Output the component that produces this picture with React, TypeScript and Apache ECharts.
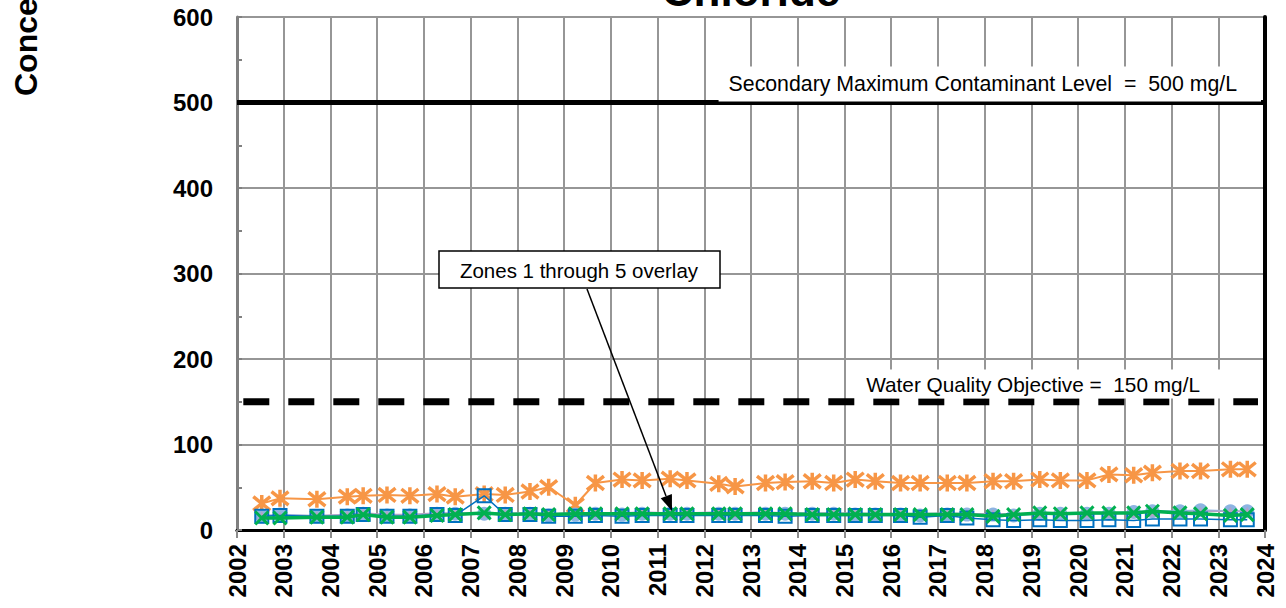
import React, { useEffect, useRef } from "react";
import * as echarts from "echarts";

// Sampling dates (decimal years)
const sampleDates = [
  2002.53, 2002.92, 2003.71, 2004.36, 2004.7, 2005.21, 2005.7, 2006.28, 2006.67, 2007.29,
  2007.74, 2008.27, 2008.67, 2009.24, 2009.67, 2010.24, 2010.67, 2011.27, 2011.63, 2012.31,
  2012.66, 2013.31, 2013.73, 2014.31, 2014.77, 2015.23, 2015.66, 2016.2, 2016.62, 2017.2,
  2017.62, 2018.18, 2018.62, 2019.18, 2019.62, 2020.19, 2020.66, 2021.19, 2021.59, 2022.18,
  2022.62, 2023.26, 2023.62,
];

// Chloride (mg/L) per well / zone
const orangeWell = [
  31, 37, 36, 39, 40, 41, 40, 42, 39, 42, 41, 45, 50, 29, 55, 59, 58, 60, 58, 54, 51, 55, 56, 57,
  55, 59, 57, 55, 55, 55, 55, 57, 57, 59, 58, 58, 65, 64, 67, 69, 69, 71, 71,
];
const zoneBlue = [
  16, 17, 16, 16, 18, 16, 16, 18, 17, 40, 18, 18, 16, 16, 17, 16, 17, 17, 17, 17, 17, 17, 16, 17,
  17, 17, 17, 17, 15, 17, 14, 12, 11, 12, 11, 11, 12, 11, 13, 13, 13, 12, 12,
];
const zoneGreen = [
  14, 14, 15, 15, 18, 15, 15, 17, 18, 20, 18, 19, 18, 19, 19, 19, 19, 19, 19, 19, 19, 19, 19, 18,
  18, 18, 18, 18, 18, 18, 18, 16, 18, 20, 19, 20, 20, 20, 22, 20, 19, 17, 18,
];
const zoneLightBlue = [
  16, 18, 16, 17, 19, 17, 17, 19, 19, 19, 19, 19, 17, 18, 19, 18, 19, 19, 19, 19, 19, 19, 19, 19,
  19, 18, 18, 18, 17, 18, 18, 18, 17, 19, 19, 19, 19, 21, 22, 22, 23, 22, 22,
];
const zonePurple = [
  17, 17, 17, 18, 20, 18, 18, 20, 20, 20, 20, 20, 19, 20, 20, 20, 21, 20, 20, 21, 20, 21, 20, 20,
  20, 20, 19, 19, 19, 20, 19, 19, 19, 20, 20, 20, 20, 20, 21, 21, 22, 22, 22,
];

const xMin = 2002;
const xMax = 2024;
const yMin = 0;
const yMax = 600;
const yStep = 100;

const smclValue = 500;
const smclSpan = [2002, 2024];
const wqoValue = 150;
const wqoSpan = [2002.135, 2023.85];

const titleText = "Chloride";
const yAxisName = "Concentration (mg/L)";
const smclLabel = "Secondary Maximum Contaminant Level  =  500 mg/L";
const wqoLabel = "Water Quality Objective =  150 mg/L";
const overlayLabel = "Zones 1 through 5 overlay";

const ASTERISK = "path://M0,-1L0,1M-0.8,-0.8L0.8,0.8M-0.8,0.8L0.8,-0.8";
const XMARK = "path://M-1,-1L1,1M-1,1L1,-1";

const pair = (vals: number[]) => sampleDates.map((d, i) => [d, vals[i]]);

export default function App() {
  const ref = useRef<HTMLDivElement>(null);
  useEffect(() => {
    document.body.style.margin = "0";
    const chart = echarts.init(ref.current!, null, { renderer: "svg" });
    const axisFont = { fontFamily: "Arial, 'Liberation Sans'", fontWeight: "bold" as const, fontSize: 24, color: "#000" };
    chart.setOption({
      animation: false,
      grid: { left: 237, right: 21, top: 17, bottom: 78 },
      xAxis: [
        {
          type: "value",
          min: xMin,
          max: xMax,
          interval: 1,
          axisLine: { show: true, onZero: false, lineStyle: { color: "#595959", width: 3 } },
          axisTick: { show: true, length: 8, lineStyle: { color: "#8c8c8c", width: 2 } },
          axisLabel: { ...axisFont, rotate: 90, margin: 14, formatter: (v: number) => String(v) },
          splitLine: { show: true, lineStyle: { color: "#969696", width: 2 } },
        },
        {
          type: "value",
          position: "top",
          min: xMin,
          max: xMax,
          axisLine: { show: true, lineStyle: { color: "#000", width: 3 } },
          axisTick: { show: false },
          axisLabel: { show: false },
          splitLine: { show: false },
        },
      ],
      yAxis: [
        {
          type: "value",
          min: yMin,
          max: yMax,
          interval: yStep,
          axisLine: { show: true, onZero: false, lineStyle: { color: "#7f7f7f", width: 3 } },
          axisTick: { show: true, inside: true, length: 5, lineStyle: { color: "#808080", width: 2 } },
          minorTick: { show: true, splitNumber: 2, length: 5, lineStyle: { color: "#808080", width: 2 } },
          axisLabel: { ...axisFont, margin: 24 },
          splitLine: { show: true, lineStyle: { color: "#969696", width: 2 } },
        },
        {
          type: "value",
          position: "right",
          min: yMin,
          max: yMax,
          axisLine: { show: true, lineStyle: { color: "#000", width: 4 } },
          axisTick: { show: false },
          axisLabel: { show: false },
          splitLine: { show: false },
        },
      ],
      series: [
        {
          name: "SMCL",
          type: "line",
          data: smclSpan.map((x) => [x, smclValue]),
          symbol: "none",
          silent: true,
          lineStyle: { color: "#000", width: 5 },
          z: 2,
        },
        {
          name: "WQO",
          type: "line",
          data: wqoSpan.map((x) => [x, wqoValue]),
          symbol: "none",
          silent: true,
          lineStyle: { color: "#000", width: 7, type: [26, 19] },
          z: 2,
        },
        {
          name: "Orange well",
          type: "line",
          data: pair(orangeWell),
          symbol: ASTERISK,
          symbolSize: 17,
          lineStyle: { color: "#F79646", width: 2 },
          itemStyle: { color: "#F79646", borderColor: "#F79646", borderWidth: 3.5 },
          z: 3,
        },
        {
          name: "Zone light blue",
          type: "line",
          data: pair(zoneLightBlue),
          symbol: "circle",
          symbolSize: 14,
          lineStyle: { color: "#8DB4E2", width: 2 },
          itemStyle: { color: "#8DB4E2" },
          z: 4,
        },
        {
          name: "Zone purple",
          type: "line",
          data: pair(zonePurple),
          symbol: "triangle",
          symbolSize: 9,
          lineStyle: { color: "#B3A2C7", width: 1.5 },
          itemStyle: { color: "#B3A2C7" },
          z: 5,
        },
        {
          name: "Zone blue",
          type: "line",
          data: pair(zoneBlue),
          symbol: "rect",
          symbolSize: 13,
          lineStyle: { color: "#0070C0", width: 1.5 },
          itemStyle: { color: "rgba(0,0,0,0)", borderColor: "#0070C0", borderWidth: 2 },
          z: 6,
        },
        {
          name: "Zone green",
          type: "line",
          data: pair(zoneGreen),
          symbol: XMARK,
          symbolSize: 13,
          lineStyle: { color: "#00B050", width: 3.5 },
          itemStyle: { color: "#00B050", borderColor: "#00B050", borderWidth: 3 },
          z: 7,
        },
      ],
      graphic: [
        {
          type: "text",
          x: 751,
          y: -10,
          z: 100,
          style: { text: titleText, font: "bold 44px Arial, 'Liberation Sans'", fill: "#000", align: "center", verticalAlign: "middle" },
        },
        {
          type: "text",
          x: 26,
          y: 96,
          rotation: Math.PI / 2,
          z: 100,
          style: { text: yAxisName, font: "bold 32px Arial, 'Liberation Sans'", fill: "#000", align: "left", verticalAlign: "middle" },
        },
        {
          type: "text",
          x: 1261,
          y: 84,
          z: 100,
          style: {
            text: smclLabel,
            font: "21.3px Arial, 'Liberation Sans'",
            fill: "#000",
            align: "right",
            verticalAlign: "middle",
            backgroundColor: "#fff",
            padding: [7, 24, 7, 10],
          },
        },
        {
          type: "text",
          x: 1230,
          y: 384,
          z: 100,
          style: {
            text: wqoLabel,
            font: "20.8px Arial, 'Liberation Sans'",
            fill: "#000",
            align: "right",
            verticalAlign: "middle",
            backgroundColor: "#fff",
            padding: [4, 30, 4, 8],
          },
        },
        {
          type: "rect",
          z: 100,
          shape: { x: 439, y: 251, width: 281, height: 37 },
          style: { fill: "#fff", stroke: "#000", lineWidth: 1.5 },
        },
        {
          type: "text",
          x: 579,
          y: 270,
          z: 101,
          style: { text: overlayLabel, font: "20.5px Arial, 'Liberation Sans'", fill: "#000", align: "center", verticalAlign: "middle" },
        },
        {
          type: "line",
          z: 100,
          shape: { x1: 587, y1: 289, x2: 666, y2: 496 },
          style: { stroke: "#000", lineWidth: 1.5 },
        },
        {
          type: "polygon",
          z: 100,
          shape: { points: [[672, 511], [660.7, 498.2], [671.9, 493.9]] },
          style: { fill: "#000" },
        },
      ],
    });
    return () => chart.dispose();
  }, []);
  return <div ref={ref} style={{ position: "absolute", left: 0, top: 0, width: 1286, height: 608 }} />;
}
